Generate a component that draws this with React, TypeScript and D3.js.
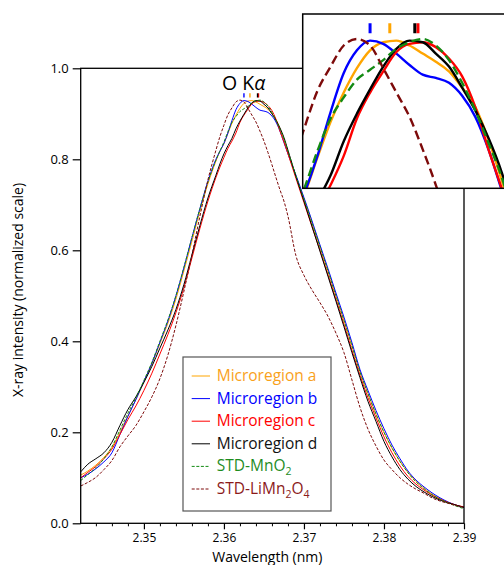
import React, { useEffect, useRef } from 'react';
import * as d3 from 'd3';

// wavelength grid (nm): 0.001 steps on the tails, 0.0005 around the peak
const wavelengths = [
  2.3421, 2.343, 2.344, 2.345, 2.346, 2.347, 2.348, 2.349, 2.350, 2.351, 2.352, 2.353, 2.354, 2.355, 2.356, 2.357, 2.358, 2.359,
  2.3595, 2.360, 2.3605, 2.361, 2.3615, 2.362, 2.3625, 2.363, 2.3635, 2.364, 2.3645, 2.365, 2.3655, 2.366, 2.3665, 2.367, 2.3675,
  2.368, 2.369, 2.370, 2.371, 2.372, 2.373, 2.374, 2.375, 2.376, 2.377, 2.378, 2.379, 2.380, 2.381, 2.382, 2.383, 2.384, 2.385, 2.386, 2.387, 2.388, 2.389, 2.390
];

const microregionA = [
  0.106, 0.115, 0.128, 0.145, 0.167, 0.200, 0.236, 0.272, 0.310, 0.350, 0.395, 0.440, 0.493, 0.555, 0.620, 0.686, 0.746, 0.796,
  0.818, 0.834, 0.857, 0.879, 0.897, 0.912, 0.923, 0.928, 0.929, 0.926, 0.921, 0.916, 0.910, 0.900, 0.888, 0.868, 0.843,
  0.816, 0.762, 0.712, 0.660, 0.607, 0.554, 0.500, 0.446, 0.390, 0.333, 0.285, 0.240, 0.200, 0.165, 0.136, 0.112, 0.092, 0.077, 0.064, 0.054, 0.046, 0.040, 0.035
];
const microregionB = [
  0.100, 0.108, 0.120, 0.135, 0.155, 0.195, 0.235, 0.272, 0.312, 0.352, 0.398, 0.445, 0.500, 0.562, 0.628, 0.692, 0.752, 0.800,
  0.818, 0.835, 0.858, 0.885, 0.909, 0.923, 0.929, 0.927, 0.921, 0.914, 0.908, 0.906, 0.903, 0.895, 0.882, 0.862, 0.837,
  0.812, 0.765, 0.716, 0.665, 0.612, 0.560, 0.506, 0.453, 0.397, 0.338, 0.292, 0.248, 0.208, 0.172, 0.142, 0.115, 0.095, 0.080, 0.067, 0.056, 0.047, 0.040, 0.035
];
const microregionC = [
  0.100, 0.112, 0.125, 0.142, 0.163, 0.195, 0.228, 0.258, 0.292, 0.330, 0.372, 0.415, 0.463, 0.518, 0.583, 0.648, 0.708, 0.760,
  0.783, 0.804, 0.824, 0.840, 0.858, 0.881, 0.897, 0.910, 0.922, 0.927, 0.928, 0.925, 0.918, 0.907, 0.888, 0.862, 0.838,
  0.812, 0.758, 0.705, 0.652, 0.600, 0.546, 0.492, 0.437, 0.380, 0.325, 0.276, 0.232, 0.190, 0.155, 0.126, 0.103, 0.086, 0.073, 0.062, 0.053, 0.046, 0.040, 0.036
];
const microregionD = [
  0.113, 0.130, 0.142, 0.155, 0.178, 0.215, 0.250, 0.278, 0.310, 0.345, 0.385, 0.425, 0.470, 0.525, 0.590, 0.655, 0.715, 0.765,
  0.790, 0.812, 0.830, 0.846, 0.867, 0.884, 0.899, 0.913, 0.924, 0.929, 0.928, 0.921, 0.913, 0.900, 0.886, 0.869, 0.848,
  0.820, 0.762, 0.708, 0.653, 0.598, 0.543, 0.488, 0.432, 0.375, 0.320, 0.268, 0.224, 0.180, 0.146, 0.118, 0.097, 0.081, 0.069, 0.059, 0.051, 0.045, 0.040, 0.035
];
const stdMnO2 = [
  0.094, 0.107, 0.122, 0.142, 0.168, 0.205, 0.242, 0.276, 0.314, 0.354, 0.400, 0.447, 0.500, 0.563, 0.628, 0.692, 0.750, 0.798,
  0.818, 0.838, 0.861, 0.881, 0.894, 0.905, 0.911, 0.917, 0.924, 0.928, 0.930, 0.926, 0.917, 0.903, 0.886, 0.866, 0.845,
  0.818, 0.764, 0.713, 0.661, 0.608, 0.555, 0.500, 0.446, 0.390, 0.333, 0.285, 0.240, 0.200, 0.166, 0.136, 0.111, 0.091, 0.076, 0.063, 0.053, 0.045, 0.038, 0.032
];
const stdLiMn2O4 = [
  0.082, 0.090, 0.101, 0.118, 0.138, 0.168, 0.192, 0.215, 0.245, 0.278, 0.318, 0.370, 0.435, 0.510, 0.590, 0.675, 0.755, 0.820,
  0.850, 0.875, 0.898, 0.913, 0.926, 0.930, 0.926, 0.912, 0.897, 0.882, 0.862, 0.840, 0.815, 0.788, 0.760, 0.733, 0.708,
  0.675, 0.588, 0.545, 0.513, 0.485, 0.455, 0.418, 0.375, 0.315, 0.255, 0.207, 0.170, 0.139, 0.118, 0.100, 0.086, 0.075, 0.066, 0.056, 0.049, 0.044, 0.039, 0.035
];

const seriesNames = ['Microregion a', 'Microregion b', 'Microregion c', 'Microregion d', 'STD-MnO2', 'STD-LiMn2O4'];
const seriesValues = [microregionA, microregionB, microregionC, microregionD, stdMnO2, stdLiMn2O4];
const seriesColors = ['#ffa500', '#0000ff', '#ff0000', '#000000', '#138a13', '#7d0a0a'];
const legendTextColors = ['#f9a11b', '#0000ff', '#ff0000', '#111111', '#1e8c1e', '#8b1a1a'];
const seriesDashed = [false, false, false, false, true, true];

// peak marks above the O Ka maximum (b, a, c, d)
const peakWavelengths = [2.3625, 2.36325, 2.36432, 2.3642];
const peakColors = ['#0000ff', '#ffa500', '#ff0000', '#000000'];

const xMajorTicks = [2.35, 2.36, 2.37, 2.38, 2.39];
const xMinorTicks = [2.344, 2.346, 2.348, 2.352, 2.354, 2.356, 2.358, 2.362, 2.364, 2.366, 2.368, 2.372, 2.374, 2.376, 2.378, 2.382, 2.384, 2.386, 2.388];
const yTicks = [0, 0.2, 0.4, 0.6, 0.8, 1.0];

const FONT = '"Open Sans", "Noto Sans", sans-serif';

const W = 504;
const H = 565;
const plot = { left: 80.7, right: 464, top: 68.3, bottom: 523.3 };
const inset = { left: 302.7, right: 506, top: 14, bottom: 188.3 };

export default function App() {
  const xAxisRef = useRef<SVGGElement>(null);
  const xMinorRef = useRef<SVGGElement>(null);
  const yAxisRef = useRef<SVGGElement>(null);

  const x = d3.scaleLinear().domain([2.3421, 2.39]).range([plot.left, plot.right]);
  const y = d3.scaleLinear().domain([0, 1]).range([plot.bottom, plot.top]);

  // inset zoom on the peak
  const xi = d3.scaleLinear().domain([2.35994, 2.36759]).range([inset.left, 504]);
  const yi = d3.scaleLinear().domain([0.838, 0.9454]).range([inset.bottom, inset.top]);

  const mainLine = d3.line<number>()
    .x((d, i) => x(wavelengths[i]))
    .y(d => y(d))
    .curve(d3.curveMonotoneX);
  const insetLine = d3.line<number>()
    .x((d, i) => xi(wavelengths[i]))
    .y(d => yi(d))
    .curve(d3.curveMonotoneX);

  useEffect(() => {
    const gx = d3.select(xAxisRef.current!);
    gx.call(d3.axisBottom(x).tickValues(xMajorTicks).tickSize(6).tickPadding(4).tickFormat(d3.format('.2f')) as any);
    gx.select('.domain').remove();
    gx.attr('font-family', FONT).attr('font-size', 12);
    gx.selectAll('line').attr('stroke-width', 1.2);

    const gm = d3.select(xMinorRef.current!);
    gm.call(d3.axisBottom(x).tickValues(xMinorTicks).tickSize(3).tickFormat(() => '') as any);
    gm.select('.domain').remove();

    const gy = d3.select(yAxisRef.current!);
    gy.call(d3.axisLeft(y).tickValues(yTicks).tickSize(8).tickPadding(4).tickFormat(d3.format('.1f')) as any);
    gy.select('.domain').remove();
    gy.attr('font-family', FONT).attr('font-size', 13);
    gy.selectAll('line').attr('stroke-width', 1.2);
  }, []);

  const order = [0, 1, 2, 3, 4, 5];
  const legendX = 183;
  const legendY = 357;
  const rowGap = 22.6;

  return (
    <svg width={W} height={H} style={{ position: 'absolute', left: 0, top: 0, background: '#fff' }} fontFamily={FONT}>
      <defs>
        <clipPath id="plotClip">
          <rect x={plot.left} y={plot.top} width={plot.right - plot.left} height={plot.bottom - plot.top} />
        </clipPath>
        <clipPath id="insetClip">
          <rect x={inset.left} y={inset.top} width={inset.right - inset.left} height={inset.bottom - inset.top} />
        </clipPath>
      </defs>

      <g clipPath="url(#plotClip)">
        {order.map(i => (
          <path key={i} d={mainLine(seriesValues[i]) || ''} fill="none" stroke={seriesColors[i]}
            strokeWidth={1} strokeDasharray={seriesDashed[i] ? '3,1.6' : undefined} />
        ))}
      </g>

      <rect x={plot.left} y={plot.top} width={plot.right - plot.left} height={plot.bottom - plot.top}
        fill="none" stroke="#000" strokeWidth={1.3} />

      <g ref={xAxisRef} transform={`translate(0,${plot.bottom})`} />
      <g ref={xMinorRef} transform={`translate(0,${plot.bottom})`} />
      <g ref={yAxisRef} transform={`translate(${plot.left},0)`} />

      <text x={(plot.left + plot.right) / 2 - 5} y={562} textAnchor="middle" fontSize={14}>Wavelength (nm)</text>
      <text transform="translate(23,290) rotate(-90)" textAnchor="middle" fontSize={14}>X-ray intensity (normalized scale)</text>

      {/* O K alpha label with peak marks */}
      <text x={222} y={90} fontSize={19.5}>O K<tspan fontStyle="italic">α</tspan></text>
      {peakWavelengths.map((w, i) => (
        <line key={i} x1={x(w)} x2={x(w)} y1={93.3} y2={97.5} stroke={peakColors[i]} strokeWidth={1.4} />
      ))}

      {/* legend */}
      <rect x={legendX} y={legendY} width={148} height={154} fill="#fff" stroke="#555" strokeWidth={1.2} />
      {order.map(i => {
        const cy = legendY + 19 + i * rowGap;
        return (
          <g key={i}>
            <line x1={191.7} x2={210} y1={cy} y2={cy} stroke={seriesColors[i]} strokeWidth={1}
              strokeDasharray={seriesDashed[i] ? '3,1.6' : undefined} />
            <text x={216.7} y={cy + 5} fontSize={15.5} fill={legendTextColors[i]}>
              {i === 4 ? (<>STD-MnO<tspan fontSize={10.5} dy={4}>2</tspan></>)
                : i === 5 ? (<>STD-LiMn<tspan fontSize={10.5} dy={4}>2</tspan><tspan dy={-4}>O</tspan><tspan fontSize={10.5} dy={4}>4</tspan></>)
                : seriesNames[i]}
            </text>
          </g>
        );
      })}

      {/* inset */}
      <rect x={inset.left} y={inset.top} width={inset.right - inset.left} height={inset.bottom - inset.top}
        fill="#fff" stroke="none" />
      <g clipPath="url(#insetClip)">
        {order.map(i => (
          <path key={i} d={insetLine(seriesValues[i]) || ''} fill="none" stroke={seriesColors[i]}
            strokeWidth={2.4} strokeDasharray={seriesDashed[i] ? '9,4.5' : undefined} />
        ))}
        {peakWavelengths.map((w, i) => (
          <line key={i} x1={xi(w)} x2={xi(w)} y1={23.3} y2={33.3} stroke={peakColors[i]} strokeWidth={3} />
        ))}
      </g>
      <rect x={inset.left} y={inset.top} width={inset.right - inset.left} height={inset.bottom - inset.top}
        fill="none" stroke="#000" strokeWidth={1.5} />
    </svg>
  );
}
